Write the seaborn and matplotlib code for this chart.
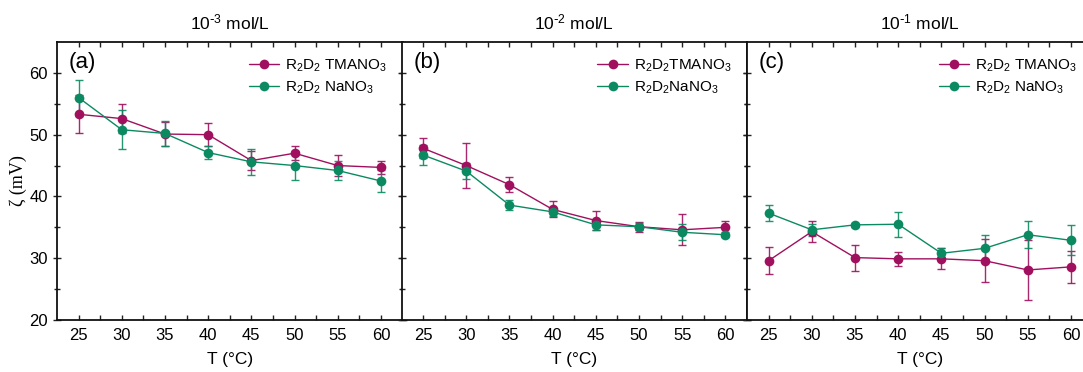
import numpy as np
import pandas as pd
import matplotlib
matplotlib.use("Agg")
import matplotlib.pyplot as plt
import seaborn as sns

temps = [25, 30, 35, 40, 45, 50, 55, 60]
panels = ["(a)", "(b)", "(c)"]
titles = [r"10$^{\text{-}3}$ mol/L", r"10$^{\text{-}2}$ mol/L", r"10$^{\text{-}1}$ mol/L"]

tma_a = [53.3, 52.6, 50.1, 50.0, 45.8, 47.0, 45.0, 44.7]
tma_a_err = [3.1, 2.4, 2.0, 1.9, 1.5, 1.1, 1.7, 1.1]
na_a = [56.0, 50.8, 50.2, 47.1, 45.6, 45.0, 44.2, 42.5]
na_a_err = [2.9, 3.2, 2.0, 1.0, 2.1, 2.3, 1.5, 1.8]

tma_b = [47.8, 45.0, 41.9, 37.9, 36.1, 35.1, 34.6, 35.0]
tma_b_err = [1.6, 3.7, 1.2, 1.3, 1.5, 0.8, 2.5, 1.0]
na_b = [46.7, 44.1, 38.6, 37.5, 35.4, 35.1, 34.2, 33.8]
na_b_err = [1.6, 1.3, 0.8, 0.7, 0.8, 0.6, 1.3, 0.4]

tma_c = [29.6, 34.3, 30.1, 29.9, 29.9, 29.6, 28.1, 28.6]
tma_c_err = [2.2, 1.7, 2.1, 1.1, 1.7, 3.5, 4.9, 2.6]
na_c = [37.3, 34.6, 35.4, 35.5, 30.8, 31.6, 33.8, 32.9]
na_c_err = [1.3, 1.0, 0.3, 2.0, 0.9, 2.2, 2.2, 2.4]

legend_tma = ["R$_2$D$_2$ TMANO$_3$", "R$_2$D$_2$TMANO$_3$", "R$_2$D$_2$ TMANO$_3$"]
legend_na = ["R$_2$D$_2$ NaNO$_3$", "R$_2$D$_2$NaNO$_3$", "R$_2$D$_2$ NaNO$_3$"]

tma_all = [(tma_a, tma_a_err), (tma_b, tma_b_err), (tma_c, tma_c_err)]
na_all = [(na_a, na_a_err), (na_b, na_b_err), (na_c, na_c_err)]

sns.set_theme(style="ticks")
plt.rcParams["font.family"] = ["Liberation Sans", "DejaVu Sans"]
plt.rcParams["mathtext.default"] = "regular"
for k in ["text.color", "axes.labelcolor", "xtick.color", "ytick.color", "axes.edgecolor"]:
    plt.rcParams[k] = "black"

C_TMA = "#A0105E"
C_NA = "#0B8A62"

W, H = 1083, 372
fig = plt.figure(figsize=(W / 100, H / 100), dpi=100)

lefts = [57, 401.5, 747]
aw = 345.5
bottom = 52
ah = 278

for i in range(3):
    ax = fig.add_axes([lefts[i] / W, bottom / H, aw / W, ah / H])
    rows = []
    for (vals, errs), lab in [(tma_all[i], legend_tma[i]), (na_all[i], legend_na[i])]:
        for t, v, e in zip(temps, vals, errs):
            rows.append({"T": t, "zeta": v, "err": e, "series": lab})
    df = pd.DataFrame(rows)
    for lab, col in [(legend_tma[i], C_TMA), (legend_na[i], C_NA)]:
        sub = df[df["series"] == lab]
        ax.errorbar(sub["T"], sub["zeta"], yerr=sub["err"], fmt="none",
                    ecolor=col, elinewidth=1.0, capsize=3, capthick=1.0, alpha=0.9, zorder=2)
    sns.lineplot(data=df, x="T", y="zeta", hue="series",
                 palette={legend_tma[i]: C_TMA, legend_na[i]: C_NA},
                 marker="o", markersize=7, markeredgewidth=0, linewidth=1.0,
                 ax=ax, zorder=3)
    ax.set_xlim(22.5, 62.5)
    ax.set_ylim(20, 65)
    ax.set_xticks(temps)
    ax.set_xticks([27.5, 32.5, 37.5, 42.5, 47.5, 52.5, 57.5], minor=True)
    ax.set_yticks([20, 30, 40, 50, 60])
    ax.set_yticks([25, 35, 45, 55], minor=True)
    ax.tick_params(axis="x", which="both", direction="in", top=True, bottom=True,
                   length=3.5, width=1, labelsize=12, pad=6, color="#222222")
    ax.tick_params(axis="y", which="both", direction="inout", left=True, right=True,
                   length=6, width=1, labelsize=12, color="#222222")
    ax.tick_params(axis="y", which="minor", length=4)
    for s in ax.spines.values():
        s.set_linewidth(1.3)
        s.set_color("#111111")
    if i > 0:
        ax.tick_params(axis="y", labelleft=False)
        ax.set_ylabel("")
    else:
        ax.set_ylabel("ζ (mV)", family=["Liberation Serif", "DejaVu Serif"], fontsize=13, labelpad=2)
    ax.set_xlabel("T (°C)", fontsize=12.5, labelpad=6)
    ax.set_title(titles[i], fontsize=12.5, pad=9)
    ax.text(0.035, 0.965, panels[i], transform=ax.transAxes, fontsize=16,
            ha="left", va="top")
    leg = ax.legend(loc="upper right", frameon=False, fontsize=11,
                    handlelength=2.0, handletextpad=0.4, labelspacing=0.4,
                    borderaxespad=0.6)

fig.savefig("out.png", dpi=100)
